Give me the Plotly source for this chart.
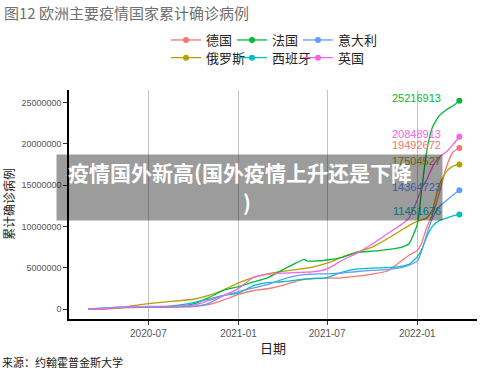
import plotly.graph_objects as go

dates = ["2020-03-01","2020-04-01","2020-05-01","2020-06-01","2020-07-01","2020-08-01",
         "2020-09-01","2020-10-01","2020-11-01","2020-12-01","2021-01-01","2021-02-01",
         "2021-03-01","2021-04-01","2021-05-01","2021-05-15","2021-05-22","2021-06-01",
         "2021-07-01","2021-08-01","2021-09-01","2021-10-01","2021-11-01","2021-12-01",
         "2021-12-15","2022-01-01","2022-01-10","2022-01-20","2022-02-01","2022-02-15",
         "2022-03-01","2022-03-15","2022-03-28"]

# cumulative confirmed cases, millions
germany = [0.0001,0.077,0.163,0.183,0.195,0.21,0.245,0.29,0.53,1.08,1.76,2.24,2.45,2.86,3.4,3.58,
           3.64,3.69,3.73,3.78,3.97,4.22,4.6,5.88,6.5,7.1,8.0,9.8,11.4,14.0,17.1,19.0,19.492672]
russia = [0.00002,0.0026,0.107,0.41,0.65,0.84,1.0,1.18,1.64,2.3,3.16,3.83,4.26,4.56,4.8,4.9,
          4.95,5.07,5.54,6.29,6.91,7.5,8.5,9.6,10.1,10.6,10.8,11.0,12.0,15.0,16.6,17.3,17.504527]
france = [0.0001,0.057,0.168,0.189,0.202,0.226,0.31,0.61,1.37,2.26,2.70,3.27,3.77,4.74,5.65,6.0,
          5.8,5.8,5.93,6.25,6.85,7.0,7.2,7.5,7.9,10.2,14.4,19.0,22.0,23.4,24.1,24.6,25.216913]
spain = [0.00008,0.104,0.215,0.239,0.25,0.288,0.46,0.77,1.19,1.65,1.93,2.82,3.2,3.3,3.52,3.6,
         3.64,3.68,3.8,4.45,4.85,4.96,5.0,5.2,5.4,6.3,7.2,8.7,10.0,10.7,11.0,11.26,11.451676]
italy = [0.0017,0.11,0.206,0.233,0.24,0.248,0.27,0.314,0.68,1.6,2.11,2.56,2.94,3.6,4.04,4.15,
         4.19,4.22,4.26,4.36,4.54,4.67,4.76,5.04,5.3,5.8,7.0,9.0,11.0,12.4,13.1,13.8,14.364723]
uk = [0.00004,0.03,0.18,0.27,0.31,0.31,0.34,0.47,1.03,1.63,2.5,3.84,4.18,4.35,4.42,4.45,
      4.47,4.49,4.85,5.9,6.8,7.86,9.1,10.3,11.0,13.2,14.6,15.6,17.2,18.4,19.0,19.9,20.848913]

countries = ["德国", "俄罗斯", "法国", "西班牙", "意大利", "英国"]
series = [germany, russia, france, spain, italy, uk]
colors = ["#F8766D", "#B79F00", "#00BA38", "#00BFC4", "#619CFF", "#F564E3"]

y_ticks = [0, 5000000, 10000000, 15000000, 20000000, 25000000]
y_ticktext = ["0", "5000000", "10000000", "15000000", "20000000", "25000000"]
x_ticks = ["2020-07-01", "2021-01-01", "2021-07-01", "2022-01-01"]
x_ticktext = ["2020-07", "2021-01", "2021-07", "2022-01"]

CJK = "Noto Sans CJK SC"
NUM = "Liberation Sans, Arial, Noto Sans CJK SC"

# pixel helpers for the plot area (l=69, r=477, top=90, bottom=319)
def px(xp):
    return (xp - 69) / 408

def py(yp):
    return (319 - yp) / 229

fig = go.Figure()
for name, vals, col in zip(countries, series, colors):
    fig.add_trace(go.Scatter(x=dates, y=[v * 1e6 for v in vals], mode="lines",
                             line=dict(color=col, width=1.3, shape="spline", smoothing=0.5),
                             showlegend=False, hoverinfo="skip"))

# legend: 2 rows x 3 columns, filled column by column (ggplot style)
legend_layout = {}
for i, name in enumerate(countries):
    vals = series[i]
    key = "legend" if i == 0 else f"legend{i + 1}"
    col_i, row_i = i // 2, i % 2
    fig.add_trace(go.Scatter(x=[dates[-1]], y=[vals[-1] * 1e6], mode="lines+markers", name=name,
                             line=dict(color=colors[i], width=1.3),
                             marker=dict(color=colors[i], size=6),
                             legend=key))
    legend_layout[key] = dict(orientation="h", xref="container", yref="container",
                              xanchor="left", yanchor="middle", itemwidth=30,
                              x=(166 + 66 * col_i) / 500, y=1 - (40 + 17.7 * row_i) / 375,
                              font=dict(family=CJK, size=13, color="#222222"),
                              bgcolor="rgba(0,0,0,0)", borderwidth=0)

annotations = []
for name, vals, col in zip(countries, series, colors):
    annotations.append(dict(x=dates[-1], y=vals[-1] * 1e6, xref="x", yref="y",
                            text=str(int(round(vals[-1] * 1e6))), showarrow=False,
                            xanchor="right", yanchor="middle", xshift=-16, yshift=3,
                            font=dict(family=NUM, size=11, color=col)))

# overlay banner
annotations.append(dict(x=px(249.4), y=py(187.5), xref="paper", yref="paper", text=" ",
                        showarrow=False, width=385, height=65, borderpad=0,
                        bgcolor="rgba(0,0,0,0.39)", xanchor="center", yanchor="middle"))
annotations.append(dict(x=px(240), y=py(171.7), xref="paper", yref="paper",
                        text="<b>疫情国外新高(国外疫情上升还是下降</b>", showarrow=False,
                        xanchor="center", yanchor="middle",
                        font=dict(family=CJK, size=21, color="white")))
annotations.append(dict(x=px(246.7), y=py(201.7), xref="paper", yref="paper",
                        text="<b>)</b>", showarrow=False,
                        xanchor="center", yanchor="middle",
                        font=dict(family=CJK, size=21, color="white")))

# titles
annotations.append(dict(x=px(2), y=py(12), xref="paper", yref="paper",
                        text="图12 欧洲主要疫情国家累计确诊病例", showarrow=False,
                        xanchor="left", yanchor="middle",
                        font=dict(family=CJK, size=15, color="#707070")))
annotations.append(dict(x=px(8), y=py(204), xref="paper", yref="paper",
                        text="累计确诊病例", showarrow=False, textangle=-90,
                        xanchor="center", yanchor="middle",
                        font=dict(family=CJK, size=12, color="#222222")))
annotations.append(dict(x=px(273), y=py(347), xref="paper", yref="paper",
                        text="日期", showarrow=False, xanchor="center", yanchor="middle",
                        font=dict(family=CJK, size=13, color="#222222")))
annotations.append(dict(x=px(0), y=py(362), xref="paper", yref="paper",
                        text="来源：约翰霍普金斯大学", showarrow=False, xanchor="left", yanchor="middle",
                        font=dict(family=CJK, size=11, color="#222222")))

fig.update_layout(
    width=500, height=375,
    margin=dict(l=69, r=23, t=90, b=56),
    paper_bgcolor="white", plot_bgcolor="white",
    showlegend=True,
    xaxis=dict(type="date", range=["2020-01-21", "2022-05-03"],
               tickvals=x_ticks, ticktext=x_ticktext,
               showgrid=True, gridcolor="#c4c4c4", gridwidth=1,
               showline=True, linecolor="black", linewidth=1.5,
               ticks="outside", ticklen=4, tickcolor="#333333",
               tickfont=dict(family=NUM, size=10, color="#555555"),
               zeroline=False),
    yaxis=dict(range=[-1.21e6, 26.51e6], tickvals=y_ticks, ticktext=y_ticktext,
               showgrid=False, showline=True, linecolor="black", linewidth=1.5,
               ticks="outside", ticklen=4, tickcolor="#333333",
               tickfont=dict(family=NUM, size=9, color="#555555"),
               zeroline=False),
    annotations=annotations,
)
fig.update_layout(**legend_layout)

fig.write_html("out.html")
